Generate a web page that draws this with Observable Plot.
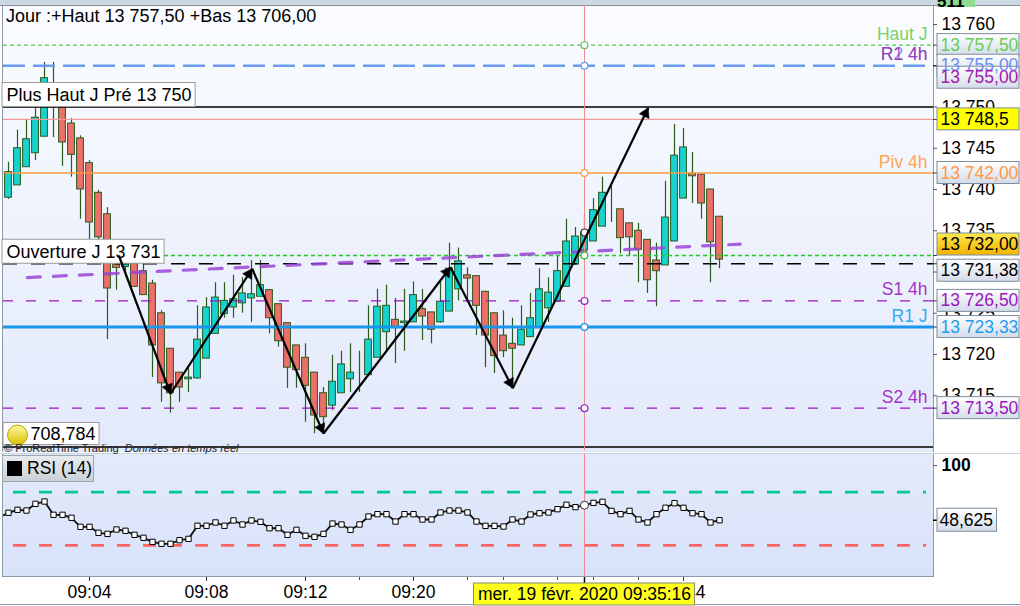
<!DOCTYPE html>
<html><head><meta charset="utf-8">
<script src="https://cdn.jsdelivr.net/npm/d3@7"></script>
<script src="https://cdn.jsdelivr.net/npm/@observablehq/plot@0.6"></script>
<style>
html,body{margin:0;padding:0;background:#fff;}
#chart{position:relative;width:1020px;height:606px;overflow:hidden;font-family:"Liberation Sans",Arial,sans-serif;background:#fff;}
.abs{position:absolute;}
</style></head><body>
<div id="chart">
  <div class="abs" style="left:0;top:0;width:1020px;height:5px;background:#cdd9e2;border-bottom:1px solid #7f8f9d"></div>
  <div class="abs" style="left:937px;top:0;width:38px;height:7px;background:#8fdc8f;overflow:hidden;font-size:17px;line-height:4px;font-weight:bold">511</div>
  <div class="abs" style="left:2px;top:6px;width:930px;height:446px;background:linear-gradient(#fafcff,#e2e9fb);border-left:1px solid #8a9aaa;border-right:1px solid #8a9aaa"></div>
  <div class="abs" style="left:0;top:453px;width:1020px;height:1px;background:#c8d2dc"></div>
  <div class="abs" style="left:2px;top:454px;width:930px;height:122px;background:linear-gradient(#e3eafb,#d8e2f9);border:1px solid #8a9aaa;border-top:none"></div>
  <div class="abs" style="left:0;top:604px;width:1020px;height:1px;background:#8a9aaa"></div>
</div>
<script>
// ---------------- DATA ----------------
const openP  = [13739.0,13740.5,13742.7,13744.4,13746.4,13752.0,13750.5,13748.0,13746.2,13743.2,
                13739.6,13737.0,13730.9,13730.6,13731.0,13730.1,13728.6,13725.0,13720.7,13717.8,
                13717.0,13717.1,13719.5,13722.5,13724.9,13725.7,13726.2,13726.8,13727.0,13727.8,
                13726.1,13723.8,13721.1,13719.6,13717.8,13715.3,13713.8,13715.3,13717.0,13717.3,
                13717.5,13719.6,13722.7,13724.2,13723.8,13723.9,13725.5,13725.1,13723.9,13725.2,
                13727.9,13729.6,13729.5,13727.6,13725.0,13722.3,13721.3,13721.1,13722.1,13723.2,
                13725.6,13726.4,13728.2,13730.9,13732.6,13733.7,13735.5,13737.6,13737.6,13735.9,
                13735.0,13733.9,13731.4,13730.8,13733.7,13738.9,13741.9,13741.8,13740.0,13736.7];
const highP  = [13743.3,13747.2,13748.5,13749.9,13755.4,13755.4,13751.0,13748.6,13746.5,13743.5,
                13739.9,13737.8,13731.4,13731.6,13731.2,13730.9,13729.0,13725.3,13720.7,13717.8,
                13718.3,13725.9,13726.9,13728.7,13728.7,13729.6,13729.3,13731.4,13731.4,13727.8,
                13726.1,13723.8,13721.1,13721.3,13717.8,13716.0,13719.9,13720.4,13721.3,13720.4,
                13725.9,13727.9,13728.4,13726.8,13727.9,13728.8,13727.9,13725.1,13729.0,13733.5,
                13732.9,13730.5,13729.5,13727.6,13725.0,13725.3,13724.4,13725.9,13727.4,13730.4,
                13729.3,13731.9,13736.4,13735.4,13737.0,13738.9,13741.5,13740.4,13737.6,13735.9,
                13735.9,13733.9,13733.5,13741.0,13747.9,13747.4,13744.5,13741.8,13740.0,13736.7];
const lowP   = [13738.8,13740.5,13742.7,13743.5,13746.4,13746.3,13742.8,13741.5,13736.4,13733.8,
                13733.0,13721.8,13727.8,13729.4,13728.2,13727.2,13717.2,13714.2,13712.9,13714.2,
                13715.4,13717.0,13719.5,13722.5,13724.4,13724.4,13725.0,13723.9,13727.0,13722.5,
                13720.9,13715.9,13715.9,13711.8,13710.4,13710.4,13713.2,13715.3,13715.4,13715.4,
                13717.5,13719.6,13720.5,13718.9,13720.4,13723.9,13721.7,13721.3,13723.8,13725.2,
                13726.5,13726.5,13722.3,13718.4,13717.7,13719.6,13716.0,13721.1,13722.1,13723.2,
                13723.9,13726.4,13728.2,13730.9,13732.6,13733.7,13735.5,13736.0,13732.2,13731.9,
                13728.7,13727.4,13725.8,13730.8,13733.7,13738.9,13738.3,13736.4,13728.7,13730.4];
const closeP = [13742.1,13745.0,13746.1,13748.7,13753.5,13750.8,13745.7,13744.2,13740.0,13736.0,
                13734.2,13728.0,13730.5,13731.0,13728.2,13727.2,13721.1,13716.5,13715.3,13716.0,
                13717.2,13721.8,13725.7,13726.9,13726.5,13726.7,13727.4,13727.3,13728.4,13724.4,
                13721.6,13718.4,13718.1,13716.2,13712.6,13712.4,13716.7,13718.8,13717.8,13717.3,
                13721.8,13725.8,13725.9,13723.2,13724.0,13727.2,13724.6,13723.0,13726.4,13730.4,
                13731.3,13729.2,13725.9,13722.3,13719.8,13720.4,13720.7,13723.0,13724.4,13727.9,
                13727.5,13730.1,13733.7,13734.3,13734.8,13737.5,13739.6,13737.6,13734.1,13734.2,
                13732.7,13729.0,13730.1,13736.6,13744.1,13745.1,13741.6,13738.3,13733.6,13731.5];
const rsiPrev = 51.5;
const rsiValues = [55.6,58.4,57.7,64.0,66.2,53.7,53.7,50.9,42.4,42.4,
                   36.8,35.8,39.9,38.7,34.9,32.1,28.3,26.5,26.5,29.9,
                   31.1,43.4,43.4,46.5,43.4,48.4,44.6,48.4,47.1,41.1,
                   41.1,34.9,39.6,34.0,33.0,35.8,45.5,44.6,39.6,44.6,
                   52.1,54.3,54.3,47.4,54.3,54.3,49.3,49.3,55.9,57.7,
                   57.7,55.9,47.4,43.3,43.3,42.7,49.3,47.4,54.0,55.2,
                   55.9,59.0,63.1,60.9,62.7,64.9,65.9,57.4,54.3,57.4,
                   49.3,46.5,54.3,60.3,64.6,60.3,55.2,54.3,46.5,48.6];
const rsiLast = "48,625";
const rsiLevels = [75, 25];
const rsiTop = 100;

const priceTicks = [13760, 13750, 13745, 13740, 13735, 13725, 13720, 13715];
const hiddenTicks = [13755, 13730];

const levelKeys   = ["hautJ","r2J","r1H4","plusHautJPre","h13748","piv4h","last","ouvJ","s1H4","r1J","s2H4","l708"];
const levelValues = [13757.5, 13755.0, 13755.0, 13750.0, 13748.5, 13742.0, 13732.0, 13731.0, 13726.5, 13723.33, 13713.5, 13708.784];
const levelTags   = ["Haut J","R2 4h","R1 4h","","","Piv 4h","","","S1 4h","R1 J","S2 4h",""];
const levelBoxes  = ["13 757,50","13 755,00","13 755,00","","13 748,5","13 742,00","13 732,00","13 731,38","13 726,50","13 723,33","13 713,50",""];
const leftLabels  = {plusHautJPre: "Plus Haut J Pré 13 750", ouvJ: "Ouverture J 13 731"};
const alertValue  = "708,784";

const trendIdx   = [2.1, 81.3];
const trendPrice = [13729.33, 13733.37];

const zigIdx   = [12.26, 18.0, 27.08, 35.0, 49.11, 56.03, 71.08];
const zigPrice = [13732.0, 13715.24, 13730.39, 13710.42, 13730.58, 13715.92, 13749.9];

const cursorIdx = 64;
const cursorLabel = "mer. 19 févr. 2020 09:35:16";
const timeTickIdx = [9, 22, 33, 45, 75];
const timeTickLabels = ["09:04","09:08","09:12","09:20","09:44"];
const minorTickIdx = [39, 51, 55, 61, 65, 70];

const headerText = "Jour :+Haut 13 757,50 +Bas 13 706,00";

// ---------------- STYLES / LAYOUT ----------------
const FONT = '"Liberation Sans", Arial, sans-serif';
const FS = 17.5;
const STYLE = {
  hautJ:        {stroke:"#55c94f", width:1.2, dash:"4,3",   text:"#66cc55", boxFill:"url(#gBox)", shift:0, lz:0},
  r2J:          {stroke:"#6a9bf0", width:2.6, dash:"22,8",  text:"#6f8ff2", boxFill:"url(#gBox)", shift:0, lz:2},
  r1H4:         {stroke:"#9b109b", width:1.4, dash:"8,22",  text:"#a020a8", boxFill:"url(#gBox)", shift:12, lz:1},
  plusHautJPre: {stroke:"#000000", width:1.4, dash:null, lz:0},
  h13748:       {stroke:"#f29a9a", width:1.2, dash:null,    text:"#000",    boxFill:"#ffff00", shift:0, lz:0},
  piv4h:        {stroke:"#ff9a40", width:1.5, dash:null,    text:"#ff9a40", boxFill:"url(#gBox)", shift:0, lz:0},
  last:         {stroke:"#22cc22", width:1.4, dash:"4,3",   text:"#000",    boxFill:"url(#gGold)", shift:-11, lz:0},
  ouvJ:         {stroke:"#000000", width:1.4, dash:"14,14", text:"#000",    boxFill:"url(#gBox)", shift:7, lz:0},
  s1H4:         {stroke:"#9a16c0", width:1.4, dash:"10,13", text:"#9a16c0", boxFill:"url(#gBox)", shift:0, lz:0},
  r1J:          {stroke:"#1996ee", width:3,   dash:null,    text:"#1e9cf0", boxFill:"url(#gBox)", shift:0, lz:0},
  s2H4:         {stroke:"#9a16c0", width:1.4, dash:"10,13", text:"#9a16c0", boxFill:"url(#gBox)", shift:0, lz:0},
  l708:         {stroke:"#000000", width:1.4, dash:null, lz:0}
};
const CYAN = "#16d3d0", RED = "#ec6f68", OUTLINE = "#2b5a1c";

// price panel geometry
const PLOT_L = 3, PLOT_R = 933, STEP = 9, FIRST = 5;
const xDomain = [-FIRST / STEP, (PLOT_R - PLOT_L - FIRST) / STEP];
const PX_PT = 8.25, REF_P = 13760, REF_Y = 24, P_TOP = 5, P_BOT = 450;
const yDomain = [REF_P - (P_BOT - REF_Y) / PX_PT, REF_P + (REF_Y - P_TOP) / PX_PT];
const X = d3.scaleLinear(xDomain, [PLOT_L, PLOT_R]);
const Y = d3.scaleLinear(yDomain, [P_BOT, P_TOP]);
const ax = px => X.invert(px);
const ay = py => Y.invert(py);

const mctx = document.createElement("canvas").getContext("2d");
function textW(t, size) { mctx.font = `${size}px "Liberation Sans"`; return mctx.measureText(t).width; }
const fmtTick = v => d3.format(",")(v).replace(/,/g, " ");

function gradDefs() {
  const defs = d3.create("svg:defs");
  const mk = (id, a, b) => {
    const g = defs.append("linearGradient").attr("id", id).attr("x1",0).attr("y1",0).attr("x2",0).attr("y2",1);
    g.append("stop").attr("offset","0%").attr("stop-color",a);
    g.append("stop").attr("offset","100%").attr("stop-color",b);
  };
  mk("gBox", "#ffffff", "#d3dcea");
  mk("gGold", "#ffe84a", "#f3b400");
  mk("gBell", "#fff9a0", "#d8c000");
  return defs.node();
}

// ---------------- DERIVED TABLES ----------------
const candles = openP.map((o, i) => ({i, o, h: highP[i], l: lowP[i], c: closeP[i]}));
const bulls = candles.filter(d => d.c >= d.o);
const bears = candles.filter(d => d.c < d.o);
const BW = 3.4 / STEP;

const levels = levelKeys.map((k, j) => ({key: k, value: levelValues[j], tag: levelTags[j], label: levelBoxes[j], ...STYLE[k]}));
const lineOrder = levels.slice().sort((a, b) => a.lz - b.lz);
const boxLevels = levels.filter(d => d.label);
boxLevels.forEach(d => { d.center = ay(Y(d.value) + d.shift); });

const zig = zigIdx.map((x, j) => ({x, y: zigPrice[j]}));
const segs = zig.slice(1).map((p, j) => ({x1: zig[j].x, y1: zig[j].y, x2: p.x, y2: p.y}));
const HEAD_OFF = 6.2;
const heads = segs.map(s => {
  const sx = X(s.x1), sy = Y(s.y1), tx = X(s.x2), ty = Y(s.y2);
  const L = Math.hypot(tx - sx, ty - sy), ux = (tx - sx) / L, uy = (ty - sy) / L;
  return {x: ax(tx - ux * HEAD_OFF), y: ay(ty - uy * HEAD_OFF), rot: Math.atan2(ux, -uy) * 180 / Math.PI};
});
const trend = trendIdx.map((x, j) => ({x, y: trendPrice[j]}));

const ringKeys = ["hautJ","r2J","piv4h","last","s1H4","r1J","s2H4"];
const rings = levels.filter(d => ringKeys.includes(d.key)).map(d => ({y: d.value, color: d.stroke}));
rings.push({y: closeP[cursorIdx], color: "#333"});

const leftBoxes = levels.filter(d => leftLabels[d.key]).map(d => ({value: d.value, text: leftLabels[d.key], w: textW(leftLabels[d.key], 18) + 8}));

// ---------------- PRICE PANEL ----------------
const priceMarks = [
  gradDefs,
  Plot.ruleX(candles, {x: "i", y1: "l", y2: "h", stroke: OUTLINE, strokeWidth: 1.2}),
  Plot.rect(bulls, {x1: d => d.i - BW, x2: d => d.i + BW, y1: "o", y2: "c", fill: CYAN, stroke: OUTLINE, strokeWidth: 1}),
  Plot.rect(bears, {x1: d => d.i - BW, x2: d => d.i + BW, y1: "c", y2: "o", fill: RED, stroke: OUTLINE, strokeWidth: 1}),
  ...lineOrder.map(d => Plot.ruleY([d.value], {stroke: d.stroke, strokeWidth: d.width, strokeDasharray: d.dash || undefined})),
  Plot.line(trend, {x: "x", y: "y", stroke: "#9b45d6", strokeOpacity: 0.85, strokeWidth: 3.2, strokeDasharray: "13,13"}),
  Plot.ruleX([cursorIdx], {stroke: "#f28c8c", strokeWidth: 1}),
  Plot.dot(rings, {x: () => cursorIdx, y: "y", r: 3.4, fill: "#fff", stroke: "color", strokeWidth: 1.2}),
  // left label boxes
  Plot.rect(leftBoxes, {x1: ax(2), x2: d => ax(2 + d.w), y1: "value", y2: d => d.value + 24 / PX_PT, fill: "#fff", stroke: "#9a9a9a"}),
  Plot.text(leftBoxes, {x: ax(6), y: d => d.value + 12 / PX_PT, text: "text", textAnchor: "start", fontSize: 18, fill: "#000"}),
  // zigzag arrows
  Plot.link(segs, {x1: "x1", y1: "y1", x2: "x2", y2: "y2", stroke: "#000", strokeWidth: 2.2}),
  Plot.dot(heads, {x: "x", y: "y", rotate: "rot", symbol: "triangle", r: 4, fill: "#000", stroke: "#000", strokeWidth: 0.5}),
  // alert box
  Plot.rect([13708.784], {x1: ax(3), x2: ax(3 + 27 + textW(alertValue, 18) + 4), y1: d => d + 2 / PX_PT, y2: d => d + 24 / PX_PT, fill: "#fff", stroke: "#9a9a9a"}),
  Plot.dot([13708.784], {x: ax(17), y: d => d + 12 / PX_PT, r: 10, fill: "url(#gBell)", stroke: "#b8a400", strokeWidth: 1}),
  Plot.text([alertValue], {x: ax(30), y: 13708.784 + 13 / PX_PT, text: d => d, textAnchor: "start", fontSize: 18, fill: "#000"}),
  // right axis ticks
  Plot.ruleY([...priceTicks, ...hiddenTicks], {x1: ax(933), x2: ax(937), stroke: "#556"}),
  Plot.text(priceTicks, {x: ax(941), y: d => d, text: fmtTick, textAnchor: "start", fontSize: FS, fill: "#000"}),
  Plot.ruleY(boxLevels, {y: "value", x1: ax(933), x2: ax(937), stroke: "#334"}),
  Plot.rect(boxLevels, {x1: ax(937), x2: ax(1019), y1: d => d.center - 11 / PX_PT, y2: d => d.center + 11 / PX_PT, fill: "boxFill", stroke: "#7d8d9b"}),
  Plot.text(boxLevels, {x: ax(940), y: "center", text: "label", textAnchor: "start", fontSize: FS, fill: "text"}),
  // level tags
  Plot.text(levels.filter(d => d.tag && d.key !== "r1H4"), {x: ax(927), y: d => d.value + 11 / PX_PT, text: "tag", textAnchor: "end", fontSize: FS, fill: "text", fillOpacity: 0.9}),
  Plot.text(levels.filter(d => d.key === "r1H4"), {x: ax(927), y: d => d.value + 11 / PX_PT, text: "tag", textAnchor: "end", fontSize: FS, fill: "text", fillOpacity: 0.75})
];

const priceSvg = Plot.plot({
  width: 1020, height: 452,
  marginLeft: 3, marginRight: 87, marginTop: 5, marginBottom: 2,
  x: {domain: xDomain, range: [PLOT_L, PLOT_R], axis: null},
  y: {domain: yDomain, range: [P_BOT, P_TOP], axis: null},
  color: {type: "identity"},
  style: {background: "transparent", overflow: "visible", fontFamily: FONT, fontSize: FS + "px", color: "#000"},
  marks: priceMarks
});

// ---------------- RSI PANEL ----------------
const R_PX = 1.065, R_REF_Y = 13; // local px of value 100
const rDomain = [100 - (125 - R_REF_Y) / R_PX, 100 + (R_REF_Y - 1) / R_PX];
const rsiData = [{i: -1, v: rsiPrev}, ...rsiValues.map((v, i) => ({i, v}))];
const lastV = rsiValues[rsiValues.length - 1];
const rsiSvg = Plot.plot({
  width: 1020, height: 126,
  marginLeft: 3, marginRight: 87, marginTop: 1, marginBottom: 1,
  x: {domain: xDomain, range: [PLOT_L, PLOT_R], axis: null},
  y: {domain: rDomain, range: [125, 1], axis: null},
  style: {background: "transparent", overflow: "visible", fontFamily: FONT, fontSize: FS + "px", color: "#000"},
  marks: [
    Plot.ruleY([rsiLevels[0]], {x1: ax(3), x2: ax(926), stroke: "#00c898", strokeWidth: 2.6, strokeDasharray: "13,13", strokeDashoffset: -10}),
    Plot.ruleY([rsiLevels[1]], {x1: ax(3), x2: ax(926), stroke: "#ff6464", strokeWidth: 2.6, strokeDasharray: "13,13", strokeDashoffset: -10}),
    Plot.ruleX([cursorIdx], {y1: rDomain[0], y2: rDomain[1], stroke: "#f28c8c"}),
    Plot.line(rsiData, {x: "i", y: "v", stroke: "#111", strokeWidth: 1.8, clip: true}),
    Plot.dot(rsiData.filter(d => d.i >= 0 && d.i !== cursorIdx), {x: "i", y: "v", symbol: "square", r: 3, fill: "#fff", stroke: "#000", strokeWidth: 1}),
    Plot.dot(rsiData.filter(d => d.i === cursorIdx), {x: "i", y: "v", r: 4, fill: "#fff", stroke: "#333", strokeWidth: 1}),
    Plot.ruleY([rsiTop], {x1: ax(933), x2: ax(937), stroke: "#556"}),
    Plot.text([rsiTop], {x: ax(941), y: d => d, text: d => String(d), textAnchor: "start", fontSize: FS, fontWeight: "bold", fill: "#000"}),
    Plot.ruleY([lastV], {x1: ax(933), x2: ax(937), stroke: "#000", strokeWidth: 1.5}),
    Plot.rect([lastV], {x1: ax(937), x2: ax(937 + textW(rsiLast, FS) + 6), y1: d => d + 11.5 / R_PX, y2: d => d - 11.5 / R_PX, fill: "url(#gBox)", stroke: "#7d8d9b"}),
    Plot.text([lastV], {x: ax(939), y: d => d, text: () => rsiLast, textAnchor: "start", fontSize: FS, fill: "#000"})
  ]
});

// ---------------- TIME AXIS ----------------
const cw = textW(cursorLabel, FS) + 8;
const timeSvg = Plot.plot({
  width: 1020, height: 29,
  marginLeft: 3, marginRight: 87, marginTop: 0, marginBottom: 0,
  x: {domain: xDomain, range: [PLOT_L, PLOT_R], axis: null},
  y: {domain: [0, 29], range: [0, 29], axis: null},
  style: {background: "transparent", overflow: "visible", fontFamily: FONT, fontSize: FS + "px", color: "#000"},
  marks: [
    Plot.ruleX(minorTickIdx, {x: d => d, y1: 0, y2: 3, stroke: "#555"}),
    Plot.ruleX(timeTickIdx, {x: d => d, y1: 0, y2: 4, stroke: "#333"}),
    Plot.text(timeTickIdx, {x: d => d, y: 15, text: (d, j) => timeTickLabels[j], fontSize: FS, fill: "#000"}),
    Plot.ruleX([cursorIdx], {y1: 0, y2: 6, stroke: "#000", strokeWidth: 1.5}),
    Plot.rect([cursorIdx], {x1: d => ax(X(d) - cw / 2), x2: d => ax(X(d) + cw / 2), y1: 6, y2: 28, fill: "#ffff1e", stroke: "#8a8a70"}),
    Plot.text([cursorIdx], {x: d => d, y: 17, text: () => cursorLabel, fontSize: FS, fill: "#000"})
  ]
});

// ---------------- ASSEMBLE ----------------
const chart = document.getElementById("chart");
function place(svg, top) { svg.style.position = "absolute"; svg.style.left = "0px"; svg.style.top = top + "px"; chart.appendChild(svg); }
place(priceSvg, 0);
place(rsiSvg, 452);
place(timeSvg, 577);

const hdr = document.createElement("div");
hdr.className = "abs";
hdr.style.cssText = "left:6px;top:6px;font-size:18px;color:#000;white-space:nowrap;";
hdr.textContent = headerText;
chart.appendChild(hdr);

const copy = document.createElement("div");
copy.className = "abs";
copy.style.cssText = "left:4px;top:442px;font-size:11px;color:#222;white-space:nowrap;";
copy.innerHTML = "© ProRealTime Trading&nbsp; <i>Données en temps réel</i>";
chart.appendChild(copy);

const rsiLab = document.createElement("div");
rsiLab.className = "abs";
rsiLab.style.cssText = "left:2px;top:455px;width:90px;height:25px;background:linear-gradient(#e8ecef,#c9d1d8);border:1px solid #9aa6b0;font-size:17.5px;line-height:25px;white-space:nowrap;";
rsiLab.innerHTML = '<span style="display:inline-block;width:15px;height:15px;background:#000;margin:0 5px 0 4px;vertical-align:-2px"></span>RSI (14)';
chart.appendChild(rsiLab);
</script>
</body></html>
